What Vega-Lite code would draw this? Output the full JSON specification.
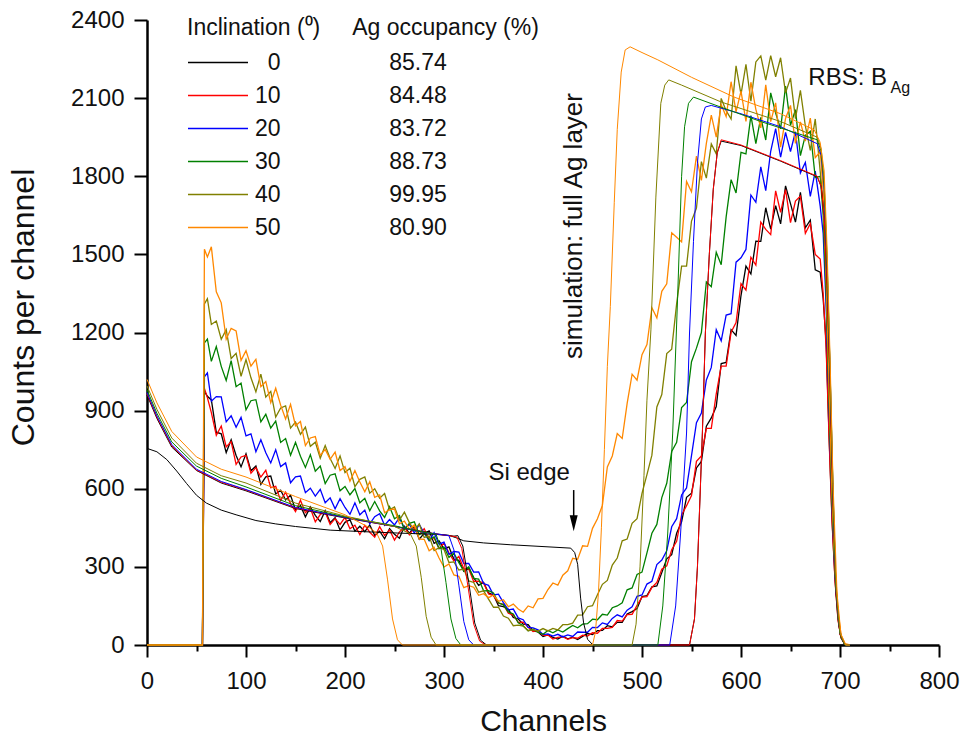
{
"$schema": "https://vega.github.io/schema/vega-lite/v6.json",
"width": 792, "height": 625,
"autosize": {"type": "none"},
"padding": {"left": 147, "top": 20, "right": 23, "bottom": 95},
"background": "white",
"config": {
 "view": {"stroke": null},
 "font": "Liberation Sans",
 "axis": {"domainColor": "#000", "domainWidth": 2.5, "tickColor": "#000", "tickWidth": 2, "labelFont": "Liberation Sans", "labelFontSize": 24, "labelColor": "#111", "titleFont": "Liberation Sans", "titleFontWeight": "normal", "titleColor": "#111", "grid": false, "labelPadding": 10}
},
"datasets": {
"exp": [
{"c":0,"k":0,"r":0,"b":0,"g":0,"o":0,"y":0},
{"c":56,"k":0,"r":0,"b":0,"g":0,"o":0,"y":0},
{"c":58,"k":975,"r":985,"b":1030,"g":1160,"o":1310,"y":1520},
{"c":61,"k":955,"r":950,"b":1045,"g":1175,"o":1330,"y":1490},
{"c":65,"k":941,"r":892,"b":936,"g":1089,"o":1231,"y":1529},
{"c":70,"k":817,"r":805,"b":954,"g":1146,"o":1244,"y":1356},
{"c":75,"k":811,"r":841,"b":953,"g":1070,"o":1174,"y":1314},
{"c":80,"k":739,"r":761,"b":857,"g":1016,"o":1211,"y":1174},
{"c":85,"k":788,"r":781,"b":880,"g":1092,"o":1100,"y":1216},
{"c":90,"k":728,"r":694,"b":836,"g":992,"o":1120,"y":1206},
{"c":95,"k":684,"r":722,"b":874,"g":1006,"o":1032,"y":1093},
{"c":100,"k":734,"r":728,"b":803,"g":903,"o":1096,"y":1130},
{"c":105,"k":669,"r":660,"b":811,"g":938,"o":1026,"y":1071},
{"c":110,"k":687,"r":681,"b":742,"g":942,"o":972,"y":1097},
{"c":115,"k":617,"r":645,"b":788,"g":857,"o":1040,"y":992},
{"c":120,"k":646,"r":671,"b":738,"g":886,"o":952,"y":1012},
{"c":125,"k":649,"r":604,"b":699,"g":833,"o":974,"y":931},
{"c":130,"k":580,"r":609,"b":750,"g":860,"o":875,"y":986},
{"c":135,"k":594,"r":555,"b":685,"g":778,"o":910,"y":921},
{"c":140,"k":557,"r":587,"b":699,"g":793,"o":918,"y":868},
{"c":145,"k":575,"r":543,"b":623,"g":729,"o":833,"y":924},
{"c":150,"k":519,"r":512,"b":646,"g":778,"o":856,"y":842},
{"c":155,"k":535,"r":556,"b":649,"g":725,"o":809,"y":858},
{"c":160,"k":492,"r":508,"b":585,"g":682,"o":837,"y":766},
{"c":165,"k":530,"r":525,"b":602,"g":731,"o":763,"y":795},
{"c":170,"k":498,"r":473,"b":572,"g":667,"o":779,"y":800},
{"c":175,"k":474,"r":501,"b":598,"g":687,"o":717,"y":728},
{"c":180,"k":516,"r":511,"b":546,"g":620,"o":766,"y":751},
{"c":185,"k":470,"r":463,"b":565,"g":652,"o":716,"y":713},
{"c":190,"k":489,"r":485,"b":523,"g":657,"o":678,"y":741},
{"c":195,"k":441,"r":463,"b":562,"g":592,"o":726,"y":670},
{"c":200,"k":471,"r":490,"b":528,"g":609,"o":662,"y":685},
{"c":205,"k":481,"r":446,"b":502,"g":577,"o":679,"y":629},
{"c":210,"k":437,"r":460,"b":546,"g":601,"o":608,"y":670},
{"c":215,"k":456,"r":424,"b":500,"g":546,"o":636,"y":626},
{"c":220,"k":435,"r":460,"b":518,"g":563,"o":645,"y":588},
{"c":225,"k":461,"r":433,"b":465,"g":516,"o":583,"y":627},
{"c":230,"k":421,"r":414,"b":493,"g":551,"o":600,"y":567},
{"c":235,"k":437,"r":454,"b":504,"g":515,"o":564,"y":576},
{"c":240,"k":408,"r":421,"b":460,"g":490,"o":582,"y":508},
{"c":245,"k":447,"r":442,"b":482,"g":531,"o":519,"y":520},
{"c":250,"k":425,"r":403,"b":461,"g":485,"o":530,"y":522},
{"c":255,"k":410,"r":434,"b":489,"g":497,"o":480,"y":465},
{"c":260,"k":456,"r":452,"b":447,"g":443,"o":510,"y":476},
{"c":265,"k":429,"r":423,"b":464,"g":467,"o":470,"y":445},
{"c":270,"k":456,"r":451,"b":430,"g":473,"o":439,"y":461},
{"c":275,"k":406,"r":425,"b":463,"g":424,"o":465,"y":407},
{"c":280,"k":429,"r":447,"b":429,"g":434,"o":413,"y":406},
{"c":285,"k":438,"r":405,"b":400,"g":402,"o":418,"y":362},
{"c":290,"k":390,"r":411,"b":431,"g":416,"o":363,"y":375},
{"c":295,"k":400,"r":371,"b":387,"g":370,"o":374,"y":334},
{"c":300,"k":369,"r":391,"b":395,"g":376,"o":367,"y":299},
{"c":305,"k":377,"r":354,"b":348,"g":336,"o":317,"y":311},
{"c":310,"k":329,"r":323,"b":359,"g":353,"o":319,"y":269},
{"c":315,"k":325,"r":340,"b":357,"g":316,"o":288,"y":264},
{"c":320,"k":283,"r":293,"b":313,"g":285,"o":291,"y":220},
{"c":325,"k":295,"r":292,"b":313,"g":300,"o":246,"y":228},
{"c":330,"k":259,"r":244,"b":280,"g":256,"o":240,"y":222},
{"c":335,"k":229,"r":245,"b":281,"g":253,"o":203,"y":191},
{"c":340,"k":240,"r":238,"b":236,"g":208,"o":208,"y":197},
{"c":345,"k":200,"r":196,"b":229,"g":209,"o":176,"y":182},
{"c":350,"k":192,"r":190,"b":192,"g":200,"o":145,"y":192},
{"c":355,"k":151,"r":161,"b":195,"g":162,"o":145,"y":168},
{"c":360,"k":147,"r":156,"b":163,"g":154,"o":111,"y":174},
{"c":365,"k":137,"r":122,"b":135,"g":127,"o":103,"y":147},
{"c":370,"k":106,"r":115,"b":138,"g":119,"o":74,"y":157},
{"c":375,"k":100,"r":87,"b":104,"g":85,"o":76,"y":138},
{"c":380,"k":80,"r":88,"b":97,"g":74,"o":73,"y":126},
{"c":385,"k":78,"r":68,"b":68,"g":55,"o":55,"y":150},
{"c":390,"k":54,"r":52,"b":66,"g":61,"o":59,"y":143},
{"c":395,"k":50,"r":56,"b":58,"g":49,"o":53,"y":177},
{"c":400,"k":33,"r":37,"b":40,"g":41,"o":63,"y":179},
{"c":405,"k":39,"r":38,"b":43,"g":56,"o":54,"y":213},
{"c":410,"k":29,"r":23,"b":34,"g":47,"o":64,"y":238},
{"c":415,"k":23,"r":29,"b":41,"g":58,"o":58,"y":230},
{"c":420,"k":34,"r":32,"b":31,"g":50,"o":78,"y":268},
{"c":425,"k":24,"r":22,"b":39,"g":63,"o":78,"y":285},
{"c":430,"k":30,"r":28,"b":33,"g":75,"o":84,"y":333},
{"c":435,"k":21,"r":26,"b":50,"g":66,"o":115,"y":329},
{"c":440,"k":33,"r":38,"b":49,"g":80,"o":116,"y":381},
{"c":445,"k":44,"r":34,"b":49,"g":82,"o":147,"y":379},
{"c":450,"k":40,"r":47,"b":68,"g":99,"o":151,"y":448},
{"c":455,"k":55,"r":45,"b":67,"g":97,"o":193,"y":485},
{"c":460,"k":56,"r":64,"b":85,"g":118,"o":233,"y":536},
{"c":465,"k":74,"r":64,"b":79,"g":115,"o":248,"y":684},
{"c":470,"k":70,"r":68,"b":102,"g":143,"o":307,"y":726},
{"c":475,"k":87,"r":94,"b":116,"g":150,"o":334,"y":812},
{"c":480,"k":87,"r":92,"b":108,"g":162,"o":400,"y":793},
{"c":485,"k":119,"r":117,"b":134,"g":212,"o":407,"y":928},
{"c":490,"k":128,"r":118,"b":147,"g":219,"o":467,"y":1040},
{"c":495,"k":140,"r":152,"b":187,"g":271,"o":485,"y":1017},
{"c":500,"k":186,"r":184,"b":192,"g":280,"o":582,"y":1115},
{"c":505,"k":190,"r":186,"b":234,"g":354,"o":654,"y":1154},
{"c":510,"k":223,"r":221,"b":245,"g":429,"o":729,"y":1295},
{"c":515,"k":227,"r":240,"b":309,"g":463,"o":914,"y":1256},
{"c":520,"k":278,"r":291,"b":326,"g":566,"o":962,"y":1358},
{"c":525,"k":331,"r":304,"b":362,"g":621,"o":1119,"y":1387},
{"c":530,"k":347,"r":366,"b":454,"g":743,"o":1136,"y":1583},
{"c":535,"k":429,"r":398,"b":485,"g":778,"o":1311,"y":1566},
{"c":540,"k":473,"r":499,"b":576,"g":912,"o":1455,"y":1548},
{"c":545,"k":567,"r":535,"b":603,"g":931,"o":1455,"y":1780},
{"c":550,"k":583,"r":574,"b":727,"g":1088,"o":1628,"y":1740},
{"c":555,"k":680,"r":705,"b":854,"g":1140,"o":1678,"y":1877},
{"c":560,"k":705,"r":726,"b":891,"g":1200,"o":1856,"y":1784},
{"c":565,"k":840,"r":832,"b":1018,"g":1394,"o":1793,"y":1926},
{"c":570,"k":872,"r":832,"b":1066,"g":1376,"o":1924,"y":2035},
{"c":575,"k":916,"r":964,"b":1211,"g":1508,"o":1886,"y":1950},
{"c":580,"k":1081,"r":1071,"b":1168,"g":1460,"o":2099,"y":2075},
{"c":585,"k":1085,"r":1071,"b":1267,"g":1644,"o":2052,"y":2029},
{"c":590,"k":1211,"r":1201,"b":1272,"g":1787,"o":2020,"y":2163},
{"c":595,"k":1189,"r":1238,"b":1470,"g":1736,"o":2224,"y":2047},
{"c":600,"k":1342,"r":1388,"b":1487,"g":1892,"o":2114,"y":2127},
{"c":605,"k":1455,"r":1363,"b":1519,"g":1886,"o":2230,"y":2011},
{"c":610,"k":1425,"r":1489,"b":1728,"g":2033,"o":2088,"y":2161},
{"c":615,"k":1551,"r":1459,"b":1700,"g":1925,"o":2239,"y":2057},
{"c":620,"k":1550,"r":1624,"b":1836,"g":2026,"o":2262,"y":1986},
{"c":625,"k":1679,"r":1596,"b":1745,"g":1939,"o":2169,"y":2151},
{"c":630,"k":1597,"r":1576,"b":1896,"g":2120,"o":2263,"y":2010},
{"c":635,"k":1687,"r":1744,"b":1983,"g":2043,"o":2182,"y":2082},
{"c":640,"k":1617,"r":1661,"b":1873,"g":1982,"o":2255,"y":1912},
{"c":645,"k":1763,"r":1749,"b":1968,"g":2146,"o":2120,"y":2022},
{"c":650,"k":1695,"r":1622,"b":1895,"g":1996,"o":2177,"y":2072},
{"c":655,"k":1624,"r":1705,"b":1971,"g":2056,"o":2021,"y":1926},
{"c":660,"k":1738,"r":1724,"b":1813,"g":1879,"o":2130,"y":2009},
{"c":665,"k":1602,"r":1581,"b":1853,"g":1957,"o":1993,"y":1935},
{"c":670,"k":1631,"r":1618,"b":1723,"g":1973,"o":1899,"y":2023},
{"c":675,"k":1441,"r":1500,"b":1820,"g":1795,"o":2020,"y":1871},
{"c":680,"k":1432,"r":1482,"b":1685,"g":1800,"o":1818,"y":1894},
{"c":683,"k":1330,"r":1350,"b":1580,"g":1650,"o":1700,"y":1750},
{"c":686,"k":1160,"r":1140,"b":1300,"g":1350,"o":1400,"y":1450},
{"c":689,"k":800,"r":790,"b":900,"g":930,"o":950,"y":1000},
{"c":692,"k":480,"r":470,"b":520,"g":540,"o":560,"y":600},
{"c":695,"k":250,"r":245,"b":270,"g":280,"o":290,"y":300},
{"c":698,"k":100,"r":95,"b":110,"g":110,"o":115,"y":130},
{"c":701,"k":30,"r":28,"b":30,"g":30,"o":30,"y":40},
{"c":705,"k":2,"r":2,"b":2,"g":2,"o":2,"y":5},
{"c":710,"k":0,"r":0,"b":0,"g":0,"o":0,"y":0}
],
"si": [
{"c":0,"v":755},{"c":10,"v":742},{"c":20,"v":712},{"c":30,"v":668},{"c":40,"v":620},{"c":50,"v":575},{"c":60,"v":545},{"c":75,"v":518},{"c":90,"v":500},{"c":110,"v":478},{"c":130,"v":465},{"c":150,"v":455},{"c":185,"v":441},{"c":220,"v":435},{"c":253,"v":430},{"c":290,"v":425},{"c":305,"v":421},{"c":312,"v":412},{"c":320,"v":400},{"c":340,"v":392},{"c":367,"v":385},{"c":400,"v":378},{"c":428,"v":372},{"c":432,"v":355},{"c":435,"v":310},{"c":438,"v":180},{"c":441,"v":85},{"c":445,"v":22},{"c":450,"v":2},{"c":455,"v":0},{"c":710,"v":0}
],
"sim": [
{"s":"k","c":0,"v":960},{"s":"k","c":10,"v":870},{"s":"k","c":25,"v":760},{"s":"k","c":50,"v":670},{"s":"k","c":75,"v":622},{"s":"k","c":100,"v":592},{"s":"k","c":150,"v":524},{"s":"k","c":200,"v":488},{"s":"k","c":250,"v":455},{"s":"k","c":290,"v":428},{"s":"k","c":310,"v":418},{"s":"k","c":314,"v":420},{"s":"k","c":319,"v":380},{"s":"k","c":325,"v":240},{"s":"k","c":331,"v":85},{"s":"k","c":337,"v":18},{"s":"k","c":343,"v":0},{"s":"k","c":548,"v":0},{"s":"k","c":553,"v":100},{"s":"k","c":556,"v":300},{"s":"k","c":561,"v":814},{"s":"k","c":564,"v":1198},{"s":"k","c":568,"v":1500},{"s":"k","c":572,"v":1750},{"s":"k","c":576,"v":1890},{"s":"k","c":580,"v":1935},{"s":"k","c":600,"v":1918},{"s":"k","c":640,"v":1858},{"s":"k","c":677,"v":1798},{"s":"k","c":681,"v":1760},{"s":"k","c":684,"v":1650},{"s":"k","c":687,"v":1380},{"s":"k","c":690,"v":1000},{"s":"k","c":693,"v":550},{"s":"k","c":696,"v":200},{"s":"k","c":700,"v":40},{"s":"k","c":705,"v":0},{"s":"k","c":710,"v":0},
{"s":"r","c":0,"v":965},{"s":"r","c":10,"v":875},{"s":"r","c":25,"v":765},{"s":"r","c":50,"v":672},{"s":"r","c":75,"v":625},{"s":"r","c":100,"v":595},{"s":"r","c":150,"v":526},{"s":"r","c":200,"v":490},{"s":"r","c":250,"v":455},{"s":"r","c":290,"v":427},{"s":"r","c":310,"v":417},{"s":"r","c":313,"v":415},{"s":"r","c":318,"v":370},{"s":"r","c":324,"v":230},{"s":"r","c":330,"v":80},{"s":"r","c":336,"v":15},{"s":"r","c":342,"v":0},{"s":"r","c":548,"v":0},{"s":"r","c":553,"v":100},{"s":"r","c":556,"v":300},{"s":"r","c":561,"v":814},{"s":"r","c":564,"v":1198},{"s":"r","c":568,"v":1500},{"s":"r","c":572,"v":1750},{"s":"r","c":576,"v":1890},{"s":"r","c":580,"v":1940},{"s":"r","c":600,"v":1920},{"s":"r","c":640,"v":1860},{"s":"r","c":677,"v":1800},{"s":"r","c":681,"v":1760},{"s":"r","c":684,"v":1650},{"s":"r","c":687,"v":1380},{"s":"r","c":690,"v":1000},{"s":"r","c":693,"v":550},{"s":"r","c":696,"v":200},{"s":"r","c":700,"v":40},{"s":"r","c":705,"v":0},{"s":"r","c":710,"v":0},
{"s":"b","c":0,"v":970},{"s":"b","c":10,"v":880},{"s":"b","c":25,"v":770},{"s":"b","c":50,"v":675},{"s":"b","c":75,"v":628},{"s":"b","c":100,"v":597},{"s":"b","c":150,"v":528},{"s":"b","c":200,"v":490},{"s":"b","c":250,"v":456},{"s":"b","c":280,"v":432},{"s":"b","c":305,"v":420},{"s":"b","c":310,"v":365},{"s":"b","c":315,"v":230},{"s":"b","c":320,"v":90},{"s":"b","c":325,"v":20},{"s":"b","c":330,"v":0},{"s":"b","c":528,"v":0},{"s":"b","c":534,"v":150},{"s":"b","c":539,"v":430},{"s":"b","c":545,"v":814},{"s":"b","c":548,"v":1198},{"s":"b","c":552,"v":1550},{"s":"b","c":556,"v":1850},{"s":"b","c":560,"v":2020},{"s":"b","c":564,"v":2066},{"s":"b","c":570,"v":2072},{"s":"b","c":600,"v":2040},{"s":"b","c":640,"v":1990},{"s":"b","c":677,"v":1925},{"s":"b","c":681,"v":1880},{"s":"b","c":684,"v":1750},{"s":"b","c":687,"v":1450},{"s":"b","c":690,"v":1050},{"s":"b","c":693,"v":580},{"s":"b","c":696,"v":210},{"s":"b","c":700,"v":45},{"s":"b","c":705,"v":0},{"s":"b","c":710,"v":0},
{"s":"g","c":0,"v":980},{"s":"g","c":10,"v":890},{"s":"g","c":25,"v":780},{"s":"g","c":50,"v":687},{"s":"g","c":75,"v":640},{"s":"g","c":100,"v":607},{"s":"g","c":150,"v":535},{"s":"g","c":200,"v":492},{"s":"g","c":250,"v":458},{"s":"g","c":270,"v":440},{"s":"g","c":292,"v":425},{"s":"g","c":297,"v":370},{"s":"g","c":302,"v":240},{"s":"g","c":307,"v":100},{"s":"g","c":312,"v":25},{"s":"g","c":317,"v":0},{"s":"g","c":516,"v":0},{"s":"g","c":521,"v":150},{"s":"g","c":526,"v":430},{"s":"g","c":531,"v":814},{"s":"g","c":536,"v":1337},{"s":"g","c":540,"v":1800},{"s":"g","c":543,"v":1990},{"s":"g","c":547,"v":2080},{"s":"g","c":552,"v":2104},{"s":"g","c":580,"v":2065},{"s":"g","c":620,"v":2010},{"s":"g","c":677,"v":1940},{"s":"g","c":681,"v":1895},{"s":"g","c":684,"v":1770},{"s":"g","c":687,"v":1470},{"s":"g","c":690,"v":1060},{"s":"g","c":693,"v":590},{"s":"g","c":696,"v":215},{"s":"g","c":700,"v":45},{"s":"g","c":705,"v":0},{"s":"g","c":710,"v":0},
{"s":"o","c":0,"v":995},{"s":"o","c":10,"v":905},{"s":"o","c":25,"v":795},{"s":"o","c":50,"v":698},{"s":"o","c":75,"v":650},{"s":"o","c":100,"v":622},{"s":"o","c":150,"v":545},{"s":"o","c":200,"v":495},{"s":"o","c":250,"v":455},{"s":"o","c":266,"v":427},{"s":"o","c":272,"v":380},{"s":"o","c":277,"v":260},{"s":"o","c":282,"v":110},{"s":"o","c":287,"v":30},{"s":"o","c":292,"v":0},{"s":"o","c":490,"v":0},{"s":"o","c":494,"v":80},{"s":"o","c":498,"v":300},{"s":"o","c":502,"v":650},{"s":"o","c":505,"v":940},{"s":"o","c":509,"v":1210},{"s":"o","c":514,"v":1720},{"s":"o","c":519,"v":2080},{"s":"o","c":523,"v":2150},{"s":"o","c":527,"v":2170},{"s":"o","c":540,"v":2150},{"s":"o","c":580,"v":2085},{"s":"o","c":640,"v":2010},{"s":"o","c":677,"v":1950},{"s":"o","c":681,"v":1905},{"s":"o","c":684,"v":1780},{"s":"o","c":687,"v":1480},{"s":"o","c":690,"v":1070},{"s":"o","c":693,"v":600},{"s":"o","c":696,"v":220},{"s":"o","c":700,"v":45},{"s":"o","c":705,"v":0},{"s":"o","c":710,"v":0},
{"s":"y","c":0,"v":1020},{"s":"y","c":10,"v":930},{"s":"y","c":25,"v":820},{"s":"y","c":50,"v":722},{"s":"y","c":75,"v":675},{"s":"y","c":100,"v":645},{"s":"y","c":150,"v":570},{"s":"y","c":200,"v":500},{"s":"y","c":225,"v":450},{"s":"y","c":232,"v":430},{"s":"y","c":238,"v":380},{"s":"y","c":243,"v":250},{"s":"y","c":248,"v":100},{"s":"y","c":253,"v":20},{"s":"y","c":258,"v":0},{"s":"y","c":450,"v":0},{"s":"y","c":453,"v":50},{"s":"y","c":456,"v":200},{"s":"y","c":459,"v":450},{"s":"y","c":462,"v":750},{"s":"y","c":465,"v":1070},{"s":"y","c":468,"v":1300},{"s":"y","c":472,"v":1700},{"s":"y","c":475,"v":1980},{"s":"y","c":479,"v":2200},{"s":"y","c":483,"v":2285},{"s":"y","c":488,"v":2297},{"s":"y","c":500,"v":2275},{"s":"y","c":516,"v":2247},{"s":"y","c":550,"v":2180},{"s":"y","c":593,"v":2104},{"s":"y","c":640,"v":2040},{"s":"y","c":674,"v":1978},{"s":"y","c":680,"v":1930},{"s":"y","c":684,"v":1820},{"s":"y","c":687,"v":1520},{"s":"y","c":690,"v":1100},{"s":"y","c":693,"v":620},{"s":"y","c":697,"v":200},{"s":"y","c":701,"v":40},{"s":"y","c":706,"v":0},{"s":"y","c":710,"v":0}
]
},
"layer": [
{
 "data": {"name": "exp"},
 "transform": [{"fold": ["k", "r", "b", "g", "o", "y"], "as": ["s", "v"]}],
 "mark": {"type": "line", "strokeWidth": 1.3},
 "encoding": {
  "x": {"field": "c", "type": "quantitative", "scale": {"domain": [0, 800], "nice": false},
   "axis": {"title": "Channels", "titleFontSize": 30, "titlePadding": 13, "format": "d", "labelFlush": false, "labelOverlap": false,
    "values": [0,50,100,150,200,250,300,350,400,450,500,550,600,650,700,750,800],
    "labelExpr": "datum.value % 100 === 0 ? datum.label : ''",
    "tickSize": {"condition": {"test": "datum.value % 100 === 0", "value": 12}, "value": 6}, "labelPadding": 12}},
  "y": {"field": "v", "type": "quantitative", "scale": {"domain": [0, 2400], "nice": false},
   "axis": {"title": "Counts per channel", "titleFontSize": 32, "titlePadding": 30, "titleY": 287, "format": "d", "labelOverlap": false,
    "values": [0,150,300,450,600,750,900,1050,1200,1350,1500,1650,1800,1950,2100,2250,2400],
    "labelExpr": "datum.value % 300 === 0 ? datum.label : ''",
    "tickSize": {"condition": {"test": "datum.value % 300 === 0", "value": 13}, "value": 6}, "labelPadding": 10}},
  "color": {"field": "s", "type": "nominal",
   "scale": {"domain": ["k", "r", "b", "g", "o", "y"], "range": ["#000000", "#ff0000", "#0000ff", "#008000", "#808000", "#ff8800"]},
   "legend": {"orient": "none", "legendX": 40, "legendY": -3, "padding": 0,
    "title": "Inclination (\u2070)\u00a0\u00a0\u00a0\u00a0\u00a0Ag occupancy (%)",
    "titleFont": "Liberation Sans", "titleFontSize": 23, "titleFontWeight": "normal", "titleColor": "#111", "titleLimit": 600, "titlePadding": 6,
    "labelFont": "Liberation Sans", "labelFontSize": 23, "labelColor": "#111", "labelLimit": 400, "labelOffset": 6,
    "labelExpr": "datum.value == 'k' ? '\u200b\u00a0\u00a00\u00a0\u00a0\u00a0\u00a0\u00a0\u00a0\u00a0\u00a0\u00a0\u00a0\u00a0\u00a0\u00a0\u00a0\u00a0\u00a0\u00a085.74' : datum.value == 'r' ? '10\u00a0\u00a0\u00a0\u00a0\u00a0\u00a0\u00a0\u00a0\u00a0\u00a0\u00a0\u00a0\u00a0\u00a0\u00a0\u00a0\u00a084.48' : datum.value == 'b' ? '20\u00a0\u00a0\u00a0\u00a0\u00a0\u00a0\u00a0\u00a0\u00a0\u00a0\u00a0\u00a0\u00a0\u00a0\u00a0\u00a0\u00a083.72' : datum.value == 'g' ? '30\u00a0\u00a0\u00a0\u00a0\u00a0\u00a0\u00a0\u00a0\u00a0\u00a0\u00a0\u00a0\u00a0\u00a0\u00a0\u00a0\u00a088.73' : datum.value == 'o' ? '40\u00a0\u00a0\u00a0\u00a0\u00a0\u00a0\u00a0\u00a0\u00a0\u00a0\u00a0\u00a0\u00a0\u00a0\u00a0\u00a0\u00a099.95' : '50\u00a0\u00a0\u00a0\u00a0\u00a0\u00a0\u00a0\u00a0\u00a0\u00a0\u00a0\u00a0\u00a0\u00a0\u00a0\u00a0\u00a080.90'",
    "symbolType": "stroke", "symbolSize": 3600, "symbolStrokeWidth": 1.5, "clipHeight": 33, "rowPadding": 0}}
 }
},
{
 "data": {"name": "si"},
 "mark": {"type": "line", "strokeWidth": 1, "color": "#000000"},
 "encoding": {"x": {"field": "c", "type": "quantitative"}, "y": {"field": "v", "type": "quantitative"}}
},
{
 "data": {"name": "sim"},
 "mark": {"type": "line", "strokeWidth": 1},
 "encoding": {"x": {"field": "c", "type": "quantitative"}, "y": {"field": "v", "type": "quantitative"}, "color": {"field": "s", "type": "nominal"}}
},
{
 "data": {"values": [{}]},
 "mark": {"type": "text", "text": "Si edge", "font": "Liberation Sans", "fontSize": 24, "align": "center", "baseline": "alphabetic", "color": "#111"},
 "encoding": {"x": {"datum": 386}, "y": {"datum": 634}}
},
{
 "data": {"values": [{}]},
 "mark": {"type": "rule", "strokeWidth": 1.5, "color": "#000"},
 "encoding": {"x": {"datum": 431}, "y": {"datum": 595}, "y2": {"datum": 495}}
},
{
 "data": {"values": [{}]},
 "mark": {"type": "point", "shape": "M-0.5,-1L0.5,-1L0,1Z", "filled": true, "size": 256, "color": "#000", "opacity": 1},
 "encoding": {"x": {"datum": 431}, "y": {"datum": 468}}
},
{
 "data": {"values": [{}]},
 "mark": {"type": "text", "text": "simulation: full Ag layer", "font": "Liberation Sans", "fontSize": 26, "angle": 270, "align": "center", "baseline": "middle", "color": "#111"},
 "encoding": {"x": {"datum": 431}, "y": {"datum": 1609}}
},
{
 "data": {"values": [{}]},
 "mark": {"type": "text", "text": "RBS: B", "font": "Liberation Sans", "fontSize": 24, "align": "left", "baseline": "alphabetic", "color": "#111"},
 "encoding": {"x": {"datum": 668}, "y": {"datum": 2150}}
},
{
 "data": {"values": [{}]},
 "mark": {"type": "text", "text": "Ag", "font": "Liberation Sans", "fontSize": 16, "align": "left", "baseline": "alphabetic", "color": "#111"},
 "encoding": {"x": {"datum": 751}, "y": {"datum": 2120}}
}
]
}
